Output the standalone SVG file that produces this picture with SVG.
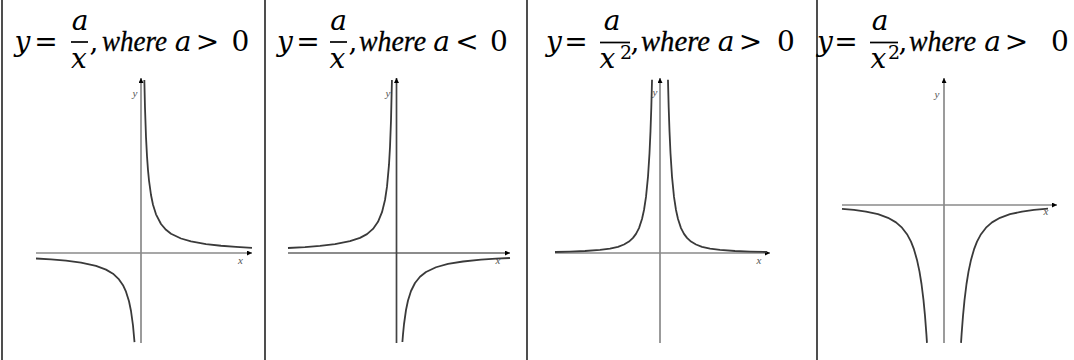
<svg xmlns="http://www.w3.org/2000/svg" width="1074" height="360" viewBox="0 0 1074 360">
<style>
.m{font-family:"DejaVu Serif",serif;font-size:28px;fill:#000}
.w{font-family:"Liberation Serif",serif;font-style:italic;font-size:29px;fill:#000;stroke:#000;stroke-width:0.3}
.i{font-style:italic}
.c{text-anchor:middle}
.bar{stroke:#000;stroke-width:1.7}
.sep{stroke:#222;stroke-width:1.6}
.ax{stroke:#8a8a8a;stroke-width:1.7;fill:none}
.cv{stroke:#3a3a3a;stroke-width:1.8;fill:none;stroke-linejoin:round}
.lb{font-family:"Liberation Serif",serif;font-style:italic;font-size:11px;fill:#555;text-anchor:middle}
</style>
<defs>
<marker id="ah" viewBox="0 0 10 10" refX="10" refY="5" markerWidth="7" markerHeight="5" markerUnits="userSpaceOnUse" orient="auto">
<path d="M0,0 L10,5 L0,10 Z" fill="#000"/>
</marker>
</defs>
<rect width="1074" height="360" fill="#fff"/>
<g id="frame">
<line class="sep" x1="2" y1="0" x2="2" y2="360"/>
<line class="sep" x1="265" y1="0" x2="265" y2="360"/>
<line class="sep" x1="527" y1="0" x2="527" y2="360"/>
<line class="sep" x1="817" y1="0" x2="817" y2="360"/>
</g>
<g id="panel1">
<text class="m i c" x="22.5" y="51">y</text>
<text class="m c" x="46" y="51">=</text>
<text class="m i c" x="80" y="30">a</text>
<line class="bar" x1="71" y1="42" x2="88" y2="42"/>
<text class="m i c" x="79" y="68">x</text>
<text class="m c" x="94" y="51">,</text>
<text class="w" x="102" y="51" textLength="65" lengthAdjust="spacingAndGlyphs">where</text>
<text class="m i c" x="183" y="51">a</text>
<text class="m c" x="207.5" y="51">&gt;</text>
<text class="m c" x="240.5" y="51">0</text>
<g class="axes">
<line class="ax" x1="36" y1="253" x2="252" y2="253" marker-end="url(#ah)"/>
<line class="ax" x1="141" y1="343" x2="141" y2="78" marker-end="url(#ah)"/>
</g>
<text class="lb" x="135" y="97">y</text>
<text class="lb" x="240.5" y="264">x</text>
<path class="cv" d="M144.35,80 L145,108 L146,137 L147,156.3 L148,170.1 L149,180.5 L151,195 L153,204.7 L156,214.3 L161,224 L166,229.8 L171,233.7 L181,238.5 L191,241.4 L206,244.1 L221,245.75 L236,246.9 L252,247.8"/>
<path class="cv" d="M36,258.5 L51,259.4 L66,260.7 L81,262.7 L96,265.9 L106,269.6 L113,273.7 L119,279.4 L123,285.2 L126,291.7 L129,301.3 L131,311 L133,325.5 L134.5,342.2"/>
</g>
<g id="panel2">
<text class="m i c" x="285" y="51">y</text>
<text class="m c" x="308" y="51">=</text>
<text class="m i c" x="338.5" y="30">a</text>
<line class="bar" x1="330" y1="42" x2="347" y2="42"/>
<text class="m i c" x="337.5" y="68">x</text>
<text class="m c" x="353" y="51">,</text>
<text class="w" x="359" y="51" textLength="67" lengthAdjust="spacingAndGlyphs">where</text>
<text class="m i c" x="441.5" y="51">a</text>
<text class="m c" x="467" y="51">&lt;</text>
<text class="m c" x="499" y="51">0</text>
<g class="axes">
<line class="ax" x1="288" y1="253" x2="510" y2="253" marker-end="url(#ah)" style="stroke:#666"/>
<line class="ax" x1="396.5" y1="343" x2="396.5" y2="78" marker-end="url(#ah)" style="stroke:#444"/>
</g>
<text class="lb" x="388" y="97">y</text>
<text class="lb" x="498" y="264">x</text>
<path class="cv" d="M288,248 L305,247.1 L320,245.9 L335,244.2 L350,241.2 L360,237.9 L367,234.1 L373,228.9 L378,221.8 L382,212.2 L385,200 L387,186.7 L389,164.7 L390,147 L391,120.5 L391.94,80"/>
<path class="cv" d="M402.4,342 L403,334.4 L404,324.25 L406,310 L408,300.5 L411,291 L415,283 L420,276.75 L426,272 L436,267.25 L448,263.96 L463,261.5 L481,259.7 L496,258.7 L510,258"/>
</g>
<g id="panel3">
<text class="m i c" x="554" y="51">y</text>
<text class="m c" x="576" y="51">=</text>
<text class="m i c" x="612" y="30">a</text>
<line class="bar" x1="600" y1="42.5" x2="630" y2="42.5"/>
<text class="m i c" x="607.5" y="68">x</text>
<text class="m c" x="626" y="59" style="font-size:19px">2</text>
<text class="m c" x="635" y="51">,</text>
<text class="w" x="641" y="51" textLength="69" lengthAdjust="spacingAndGlyphs">where</text>
<text class="m i c" x="726" y="51">a</text>
<text class="m c" x="750.5" y="51">&gt;</text>
<text class="m c" x="786" y="51">0</text>
<g class="axes">
<line class="ax" x1="555" y1="253" x2="770" y2="253" marker-end="url(#ah)"/>
<line class="ax" x1="660" y1="343" x2="660" y2="78" marker-end="url(#ah)"/>
</g>
<text class="lb" x="655" y="96">y</text>
<text class="lb" x="759" y="264">x</text>
<path class="cv" d="M555,252 L570,251.6 L585,251 L600,249.9 L610,248.6 L618,246.8 L624,244.5 L629,241.55 L633,237.9 L636,233.9 L639,228.1 L642,219.05 L644,210 L646,196.9 L648,176.6 L649.5,153.2 L650.5,131.1 L651.3,107.7 L652.03,79.8"/>
<path class="cv" d="M767,252 L750,251.6 L735,251 L720,249.9 L710,248.6 L702,246.8 L696,244.5 L691,241.55 L687,237.9 L684,233.9 L681,228.1 L678,219.05 L676,210 L674,196.9 L672,176.6 L670.5,153.2 L669.5,131.1 L668.7,107.7 L667.97,79.8"/>
</g>
<g id="panel4">
<text class="m i c" x="825" y="51">y</text>
<text class="m c" x="846" y="51">=</text>
<text class="m i c" x="880" y="30">a</text>
<line class="bar" x1="870" y1="42.5" x2="898" y2="42.5"/>
<text class="m i c" x="878.5" y="68">x</text>
<text class="m c" x="894" y="59" style="font-size:19px">2</text>
<text class="m c" x="903" y="51">,</text>
<text class="w" x="909" y="51" textLength="67" lengthAdjust="spacingAndGlyphs">where</text>
<text class="m i c" x="992.5" y="51">a</text>
<text class="m c" x="1016.5" y="51">&gt;</text>
<text class="m c" x="1060" y="51">0</text>
<g class="axes">
<line class="ax" x1="842" y1="205" x2="1057" y2="205" marker-end="url(#ah)"/>
<line class="ax" x1="944" y1="343" x2="944" y2="78" marker-end="url(#ah)"/>
</g>
<text class="lb" x="937" y="98">y</text>
<text class="lb" x="1046" y="215">x</text>
<path class="cv" d="M842,208.8 L854,209.9 L866,211.6 L878,214.2 L888,217.8 L896,222.4 L902,227.7 L907,234.2 L911,241.7 L914,249.4 L917,259.9 L919.5,271.6 L921.5,284 L923.5,300.2 L925,315.8 L926.4,334.1 L926.97,342.9"/>
<path class="cv" d="M1048,208.7 L1034,209.9 L1022,211.6 L1010,214.2 L1000,217.8 L992,222.4 L986,227.7 L981,234.2 L977,241.7 L974,249.4 L971,259.9 L968.5,271.6 L966.5,284 L964.5,300.2 L963,315.8 L961.6,334.1 L961.03,342.9"/>
</g>
</svg>
